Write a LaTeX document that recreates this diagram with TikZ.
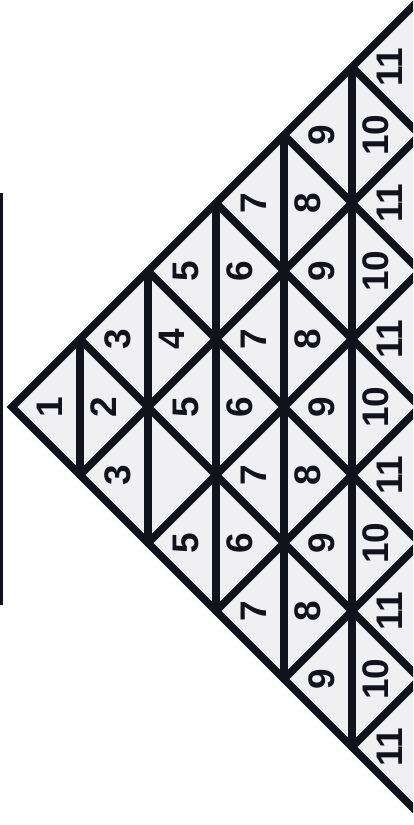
\documentclass[tikz,border=0pt]{standalone}
\usepackage{fontspec}
\setmainfont{Liberation Sans}
\usetikzlibrary{calc}

\definecolor{paper}{RGB}{239,239,244}
\definecolor{ink}{RGB}{18,18,26}

\begin{document}
\begin{tikzpicture}[
    x=1pt, y=-1pt,
    gridline/.style={line width=7.5pt, ink, line cap=round},
    edge/.style={line width=7.5pt, ink, line join=miter},
    num/.style={font=\fontsize{37}{37}\selectfont\bfseries, text=ink,
                rotate=90, inner sep=0pt}
]
\useasboundingbox (0,0) rectangle (413,825);
\clip (0,0) rectangle (413,825);
% lattice points, column k, point i
\foreach \k in {0,...,6} {
    \foreach \i in {0,...,\k} {
        \coordinate (p-\k-\i) at ({12+68*\k}, {407+68*(2*\i-\k)});
    }
}
\fill[paper] (p-0-0) -- (p-6-0) -- (p-6-6) -- cycle;
\draw[line width=2.5pt, ink] (1.5,193) -- (1.5,605);
\foreach \k in {1,...,5} {
    \pgfmathtruncatemacro{\m}{6-\k}
    \draw[gridline] (p-\k-0) -- (p-\k-\k);
    \draw[gridline] (p-\k-0) -- (p-6-\m);
    \draw[gridline] (p-\k-\k) -- (p-6-\k);
}
\draw[edge] (p-6-0) -- (p-0-0) -- (p-6-6);
% numbers
\foreach \k in {0,...,5} {
    \pgfmathtruncatemacro{\jmax}{2*\k}
    \foreach \j in {0,...,\jmax} {
        \pgfmathtruncatemacro{\odd}{mod(\j,2)}
        \pgfmathtruncatemacro{\val}{2*\k+1-\odd}
        \pgfmathtruncatemacro{\blank}{and(\k==2,\j==3)}
        \pgfmathsetmacro{\dx}{\odd==1 ? 24 : 38}
        \ifnum\blank=0
            \node[num] (n-\k-\j) at ({12+68*\k+\dx}, {407+68*(\j-\k)}) {\val};
        \fi
    }
}
\end{tikzpicture}
\end{document}
